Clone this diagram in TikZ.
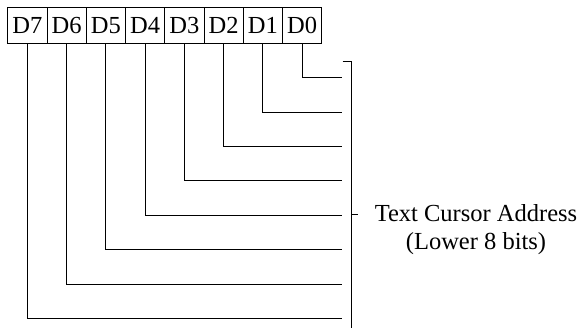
\documentclass[tikz,border=0pt]{standalone}
\usepackage{fontspec}
\setmainfont{Liberation Serif}
\begin{document}
\begin{tikzpicture}[x=1pt,y=-1pt,
  cell/.style={draw, line width=0.8pt, minimum width=39.25pt, minimum height=36pt, inner sep=0pt,
    font=\fontsize{24.5}{28}\selectfont},
  wire/.style={line width=0.8pt},
  lbl/.style={align=center, inner sep=0pt, font=\fontsize{24.5}{28}\selectfont}]
\useasboundingbox (0,0) rectangle (587,333);
\foreach \i/\n in {0/7,1/6,2/5,3/4,4/3,5/2,6/1,7/0} {
  \node[cell] (d\n) at (27.3+39.25*\i,25.3) {D\n};
}
\foreach \n in {0,...,7} {
  \coordinate (c\n) at (341.7,77.7+34.37*\n);
  \draw[wire] (d\n.south) |- (c\n);
}
\coordinate (bt0) at (342.7,61.7);
\coordinate (bt) at (351,61.7);
\coordinate (bb) at (351,327.7);
\coordinate (bm) at (351,214.3);
\coordinate (bm1) at (358,214.3);
\draw[wire] (bt0) -- (bt) -- (bb);
\draw[wire] (bm) -- (bm1);
\node[lbl] (txt) at (476,229.7) {Text Cursor Address\\(Lower 8 bits)};
\end{tikzpicture}
\end{document}
